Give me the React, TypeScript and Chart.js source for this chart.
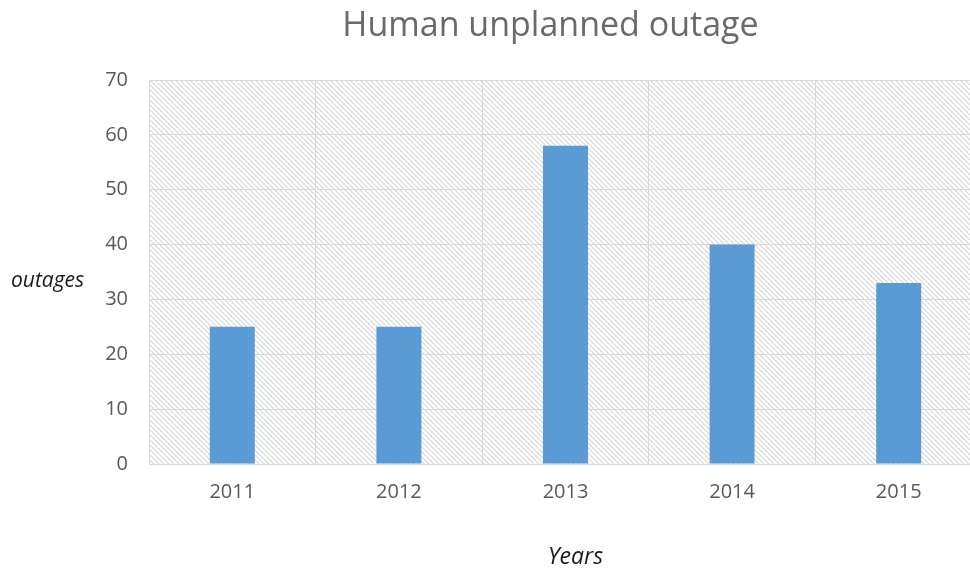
import React, { useEffect, useRef } from "react";
import { Chart, registerables } from "chart.js";

Chart.register(...registerables);

const years = ["2011", "2012", "2013", "2014", "2015"];
const outages = [25, 25, 58, 40, 33];
const chartTitle = "Human unplanned outage";
const yTitle = "outages";
const xTitle = "Years";

function makePattern(ctx: CanvasRenderingContext2D) {
  const s = 5;
  const c = document.createElement("canvas");
  c.width = s;
  c.height = s;
  const p = c.getContext("2d")!;
  p.fillStyle = "#ffffff";
  p.fillRect(0, 0, s, s);
  p.strokeStyle = "#d6d6d6";
  p.lineWidth = 1.2;
  for (const k of [-s, 0, s]) {
    p.beginPath();
    p.moveTo(k, 0);
    p.lineTo(k + s, s);
    p.stroke();
  }
  return ctx.createPattern(c, "repeat");
}

const decor = {
  id: "decor",
  beforeDraw(chart: any) {
    const { ctx, chartArea } = chart;
    ctx.save();
    const pat = makePattern(ctx);
    if (pat) {
      ctx.fillStyle = pat;
      ctx.fillRect(chartArea.left, chartArea.top, chartArea.right - chartArea.left, chartArea.bottom - chartArea.top);
    }
    ctx.restore();
  },
  afterDraw(chart: any) {
    const { ctx, chartArea } = chart;
    ctx.save();
    ctx.textBaseline = "middle";
    ctx.fillStyle = "#6a6a6a";
    ctx.font = "34px 'Open Sans'";
    ctx.textAlign = "center";
    ctx.fillText(chartTitle, (chartArea.left + chartArea.right) / 2 - 15, 26);
    ctx.fillStyle = "#1a1a1a";
    ctx.font = "italic 21px 'Open Sans'";
    ctx.textAlign = "left";
    ctx.fillText(yTitle, 11, 281);
    ctx.font = "italic 23px 'Open Sans'";
    ctx.textAlign = "center";
    ctx.fillText(xTitle, (chartArea.left + chartArea.right) / 2 + 10, 557);
    ctx.restore();
  },
};

export default function App() {
  const ref = useRef<HTMLCanvasElement>(null);
  useEffect(() => {
    const chart = new Chart(ref.current!, {
      type: "bar",
      data: {
        labels: years,
        datasets: [
          {
            data: outages,
            backgroundColor: "#5b9bd5",
            borderWidth: 0,
            barPercentage: 0.9,
            categoryPercentage: 0.3,
          },
        ],
      },
      options: {
        animation: false,
        responsive: false,
        layout: { padding: { top: 80, right: 0, left: 0, bottom: 0 } },
        plugins: { legend: { display: false }, tooltip: { enabled: false }, title: { display: false } },
        scales: {
          x: {
            grid: { color: "#d9d9d9", drawTicks: false, offset: true },
            border: { color: "#d9d9d9" },
            ticks: { color: "#595959", font: { family: "'Open Sans'", size: 20 }, padding: 16 },
            afterFit: (s: any) => {
              s.height = 107;
            },
          },
          y: {
            min: 0,
            max: 70,
            grid: { color: "#d9d9d9", drawTicks: false },
            border: { color: "#d9d9d9" },
            ticks: { stepSize: 10, color: "#595959", font: { family: "'Open Sans'", size: 20 }, padding: 21 },
            afterFit: (s: any) => {
              s.width = 149;
            },
          },
        },
      },
      plugins: [decor],
    });
    return () => chart.destroy();
  }, []);
  return (
    <div style={{ position: "fixed", left: 0, top: 0, width: 970, height: 571, overflow: "hidden", background: "#fff" }}>
      <canvas ref={ref} width={982} height={571} style={{ display: "block", width: 982, height: 571 }} />
    </div>
  );
}
